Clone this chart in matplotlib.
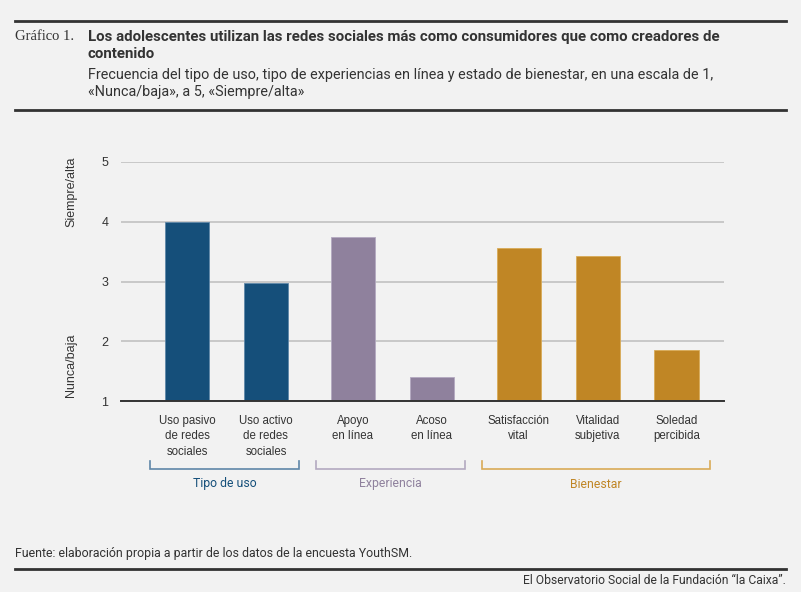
import matplotlib

matplotlib.use("Agg")

import matplotlib.pyplot as plt
from matplotlib.transforms import blended_transform_factory

# data
categories = [
    "Uso pasivo\nde redes\nsociales",
    "Uso activo\nde redes\nsociales",
    "Apoyo\nen línea",
    "Acoso\nen línea",
    "Satisfacción\nvital",
    "Vitalidad\nsubjetiva",
    "Soledad\npercibida",
]
values = [3.99, 2.98, 3.75, 1.40, 3.56, 3.43, 1.85]
groups = ["Tipo de uso", "Experiencia", "Bienestar"]
group_of = [0, 0, 1, 1, 2, 2, 2]
yticks = [1, 2, 3, 4, 5]

BG = "#f2f2f2"
DARK = "#333333"
bar_colors = ["#154f7a", "#8f819d", "#c08625"]
bracket_colors = ["#5f87a8", "#b3a9c0", "#d9ab57"]
label_colors = ["#154f7a", "#8f819d", "#c08625"]

W, H = 801, 592


def fy(py):
    return 1 - py / H


def fx(px):
    return px / W


fig = plt.figure(figsize=(W / 100, H / 100), dpi=100, facecolor=BG)

# bar positions: small extra gap between groups
xpos = []
x = 0.0
for i, g in enumerate(group_of):
    if i > 0:
        x += 1.0 if g == group_of[i - 1] else 1.1
    xpos.append(x)

ax = fig.add_axes([fx(121), fy(401), fx(724 - 121), (401 - 162) / H])
ax.set_facecolor(BG)
ax.bar(xpos, [v - 1 for v in values], bottom=1, width=0.56,
       color=[bar_colors[g] for g in group_of],
       edgecolor=[bracket_colors[g] for g in group_of], linewidth=0.6, zorder=3)
ax.set_xlim(-0.835, 6.8)
ax.set_ylim(1, 5)
ax.set_yticks(yticks)
ax.set_yticklabels([str(t) for t in yticks], fontsize=9, color=DARK,
                   family="Liberation Sans")
ax.tick_params(axis="y", length=0, pad=9)
ax.set_xticks([])
ax.grid(axis="y", color="#bdbdbd", linewidth=1.1, zorder=0)
for s in ["top", "right", "left"]:
    ax.spines[s].set_visible(False)
ax.spines["bottom"].set_color(DARK)
ax.spines["bottom"].set_linewidth(1.4)
ax.spines["bottom"].set_zorder(4)

fig.text(fx(71), fy(192), "Siempre/alta", rotation=90, ha="center", va="center",
         fontsize=9, color=DARK, family="Liberation Sans")
fig.text(fx(71), fy(365), "Nunca/baja", rotation=90, ha="center", va="center",
         fontsize=9, color=DARK, family="Liberation Sans")

tr = blended_transform_factory(ax.transData, fig.transFigure)
for xp, lab in zip(xpos, categories):
    fig.text(xp, fy(415), lab, transform=tr, ha="center", va="top",
             fontsize=8.3, color=DARK, family="Liberation Sans", linespacing=1.38)

for gi, gname in enumerate(groups):
    idx = [i for i, g in enumerate(group_of) if g == gi]
    x0 = xpos[idx[0]] - 0.47
    x1 = xpos[idx[-1]] + 0.42
    ax.plot([x0, x0, x1, x1], [fy(461), fy(469), fy(469), fy(461)],
            transform=tr, color=bracket_colors[gi], linewidth=1.2,
            clip_on=False, solid_joinstyle="miter")
    fig.text((x0 + x1) / 2, fy(484), gname, transform=tr, ha="center",
             va="center", fontsize=8.8, color=label_colors[gi], family="Roboto")

# header
fig.add_artist(plt.Line2D([fx(15), fx(786)], [fy(21), fy(21)], color=DARK, linewidth=2))
fig.add_artist(plt.Line2D([fx(15), fx(786)], [fy(110), fy(110)], color=DARK, linewidth=2))
fig.text(fx(15), fy(37), "Gráfico 1.", ha="left", va="center", fontsize=10.5,
         color=DARK, family="Liberation Serif")
fig.text(fx(88), fy(37), "Los adolescentes utilizan las redes sociales más como consumidores que como creadores de",
         ha="left", va="center", fontsize=10.8, weight="bold", color=DARK, family="Roboto")
fig.text(fx(88), fy(54), "contenido", ha="left", va="center", fontsize=10.8,
         weight="bold", color=DARK, family="Roboto")
fig.text(fx(88), fy(75),
         "Frecuencia del tipo de uso, tipo de experiencias en línea y estado de bienestar, en una escala de 1,",
         ha="left", va="center", fontsize=10.4, color=DARK, family="Roboto")
fig.text(fx(88), fy(92), "«Nunca/baja», a 5, «Siempre/alta»", ha="left", va="center",
         fontsize=10.4, color=DARK, family="Roboto")

# footer
fig.text(fx(15), fy(553), "Fuente: elaboración propia a partir de los datos de la encuesta YouthSM.",
         ha="left", va="center", fontsize=8.9, color=DARK, family="Roboto")
fig.add_artist(plt.Line2D([fx(15), fx(786)], [fy(569), fy(569)], color=DARK, linewidth=2))
fig.text(fx(786), fy(580), "El Observatorio Social de la Fundación “la Caixa”.",
         ha="right", va="center", fontsize=8.7, color=DARK, family="Roboto")

fig.savefig("out.png", dpi=100, facecolor=BG)
